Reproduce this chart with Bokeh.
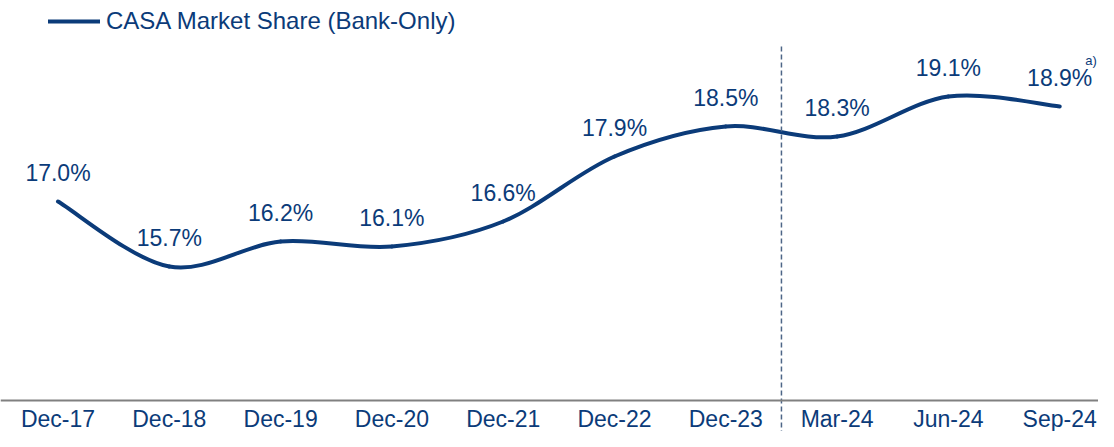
from bokeh.plotting import figure
from bokeh.models import Range1d, Span, Legend, LegendItem, ColumnDataSource
from bokeh.core.properties import value
from bokeh.embed import file_html
from bokeh.resources import INLINE

# ---- data ----
categories = ["Dec-17", "Dec-18", "Dec-19", "Dec-20", "Dec-21",
              "Dec-22", "Dec-23", "Mar-24", "Jun-24", "Sep-24"]
casa_share = [17.0, 15.7, 16.2, 16.1, 16.6, 17.9, 18.5, 18.3, 19.1, 18.9]
series_name = "CASA Market Share (Bank-Only)"
footnote = "a)"
divider_after = "Dec-23"

# ---- style ----
NAVY = "#0b3b79"
FONT = "Liberation Sans"
W, H = 1098, 431
Y_MIN, Y_MAX = 12.40, 21.02
AXIS_BASE = 13.02
CAT_LABEL_Y = 12.66

p = figure(width=W, height=H, output_backend="svg", toolbar_location=None,
           x_range=Range1d(-0.5166, 9.3486), y_range=Range1d(Y_MIN, Y_MAX),
           x_axis_type=None, y_axis_type=None, min_border=0,
           outline_line_color=None, background_fill_color="white",
           border_fill_color="white")

n = len(categories)
xs = list(range(n))

# smooth line drawn as cubic Bezier segments (Catmull-Rom style control points)
seg = dict(x0=[], y0=[], x1=[], y1=[], cx0=[], cy0=[], cx1=[], cy1=[])
for i in range(n - 1):
    pm, pp = max(i - 1, 0), min(i + 2, n - 1)
    seg["x0"].append(xs[i]); seg["y0"].append(casa_share[i])
    seg["x1"].append(xs[i + 1]); seg["y1"].append(casa_share[i + 1])
    seg["cx0"].append(xs[i] + (xs[i + 1] - xs[pm]) / 6)
    seg["cy0"].append(casa_share[i] + (casa_share[i + 1] - casa_share[pm]) / 6)
    seg["cx1"].append(xs[i + 1] - (xs[pp] - xs[i]) / 6)
    seg["cy1"].append(casa_share[i + 1] - (casa_share[pp] - casa_share[i]) / 6)
curve = p.bezier(x0="x0", y0="y0", x1="x1", y1="y1", cx0="cx0", cy0="cy0",
                 cx1="cx1", cy1="cy1", source=ColumnDataSource(seg),
                 line_color=NAVY, line_width=4, line_cap="round")

# axis base line
p.add_layout(Span(location=AXIS_BASE, dimension="width",
                  line_color="#808080", line_width=2))

# divider between Dec-23 and Mar-24
xd = categories.index(divider_after) + 0.5
p.segment(x0=[xd], x1=[xd], y0=[20.1], y1=[Y_MIN - 0.2],
          line_color="#4d6687", line_width=1.5, line_dash="5 3")

# data labels
labels = [f"{v:.1f}%" for v in casa_share]
p.text(x=xs, y=[v + 0.58 for v in casa_share], text=labels,
       text_align="center", text_baseline="middle",
       text_font=value(FONT), text_font_size="23px", text_color=NAVY)

# footnote marker on last label
p.text(x=[xs[-1] + 0.333], y=[casa_share[-1] + 0.93], text=[footnote],
       text_align="right", text_baseline="middle",
       text_font=value(FONT), text_font_size="13px", text_color=NAVY)

# category labels
p.text(x=xs, y=[CAT_LABEL_Y] * n, text=categories,
       text_align="center", text_baseline="middle",
       text_font=value(FONT), text_font_size="23px", text_color=NAVY)

# legend
legend = Legend(items=[LegendItem(label=series_name, renderers=[curve])],
                location=(48, 396), orientation="horizontal",
                glyph_width=52, glyph_height=20, label_standoff=6,
                padding=0, margin=0, border_line_color=None,
                background_fill_alpha=0, label_text_font=FONT,
                label_text_font_size="24px", label_text_color=NAVY)
p.add_layout(legend)

open("out.html", "w").write(file_html(p, INLINE))
